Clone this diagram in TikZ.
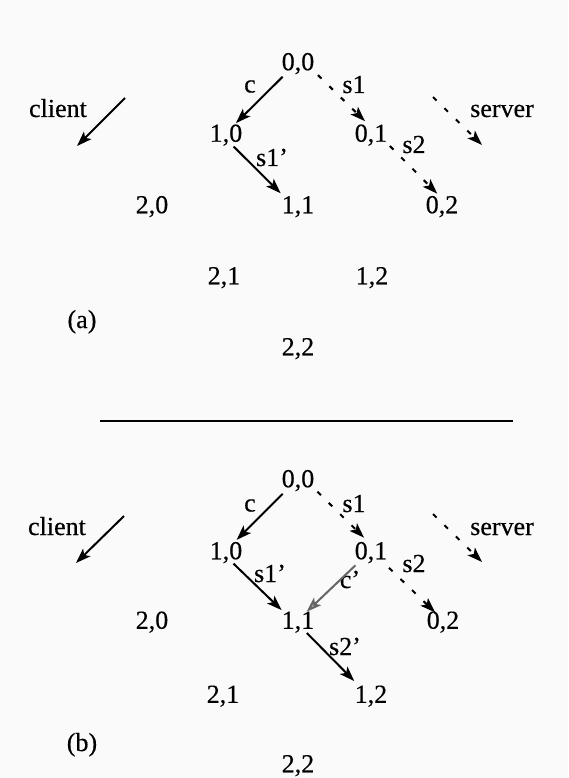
\documentclass[tikz,border=0pt]{standalone}
\usepackage{fontspec}
\setmainfont{Liberation Serif}[FakeBold=0.35]
\usetikzlibrary{arrows.meta}
\begin{document}
\begin{tikzpicture}[x=1pt,y=-1pt,
  every node/.style={font=\fontsize{26}{31}\selectfont, inner sep=0pt, text=black},
  st/.style={text height=17.5pt, text depth=0pt, anchor=center},
  lbl/.style={anchor=base},
  tip/.style={-{Stealth[length=15pt,width=10.5pt,inset=3.5pt]}},
  carrow/.style={line width=2pt, tip},
  sarrow/.style={line width=2pt, dash pattern=on 5pt off 11pt, tip},
  garrow/.style={line width=2pt, draw=black!60, -{Stealth[length=15pt,width=10.5pt,inset=3.5pt,fill=black!35]}}
]
\fill[black!2] (0,0) rectangle (568,778);
\useasboundingbox (0,0) rectangle (568,778);

% ---------- panel (a) ----------
\node[st] (a00) at (298,61.5) {0,0};
\node[st] (a10) at (226,133) {1,0};
\node[st] (a01) at (371,133) {0,1};
\node[st] (a20) at (152,204.5) {2,0};
\node[st] (a11) at (298,204.5) {1,1};
\node[st] (a02) at (442,204.5) {0,2};
\node[st] (a21) at (224,275.5) {2,1};
\node[st] (a12) at (372,275.5) {1,2};
\node[st] (a22) at (298,346.5) {2,2};

\node[lbl] (ac) at (250,92.5) {c};
\node[lbl] (as1) at (354,93) {s1};
\node[lbl] (as1p) at (272,166) {s1'};
\node[lbl] (as2) at (414,153) {s2};
\node[lbl] (aclient) at (58,117) {client};
\node[lbl] (aserver) at (502,117) {server};
\node[lbl] (alab) at (82,328) {(a)};

\coordinate (acs) at (125,98);
\coordinate (ace) at (77,146);
\coordinate (ass) at (433,97);
\coordinate (ase) at (482,145);
\draw[carrow] (acs) -- (ace);
\draw[sarrow] (ass) -- (ase);

\draw[carrow, shorten <=21.6pt, shorten >=14pt] (a00.center) -- (a10.center);
\draw[sarrow, shorten <=23.7pt, shorten >=12.6pt] ([xshift=3pt,yshift=3pt]a00.center) -- ([xshift=3pt,yshift=3pt]a01.center);
\draw[carrow, shorten <=14.9pt, shorten >=20.2pt] ([xshift=-3pt,yshift=-3pt]a10.center) -- ([xshift=-3pt,yshift=-3pt]a11.center);
\draw[sarrow, shorten <=22.6pt, shorten >=11pt] ([xshift=3pt,yshift=3pt]a01.center) -- ([xshift=3pt,yshift=3pt]a02.center);

% ---------- separator ----------
\coordinate (rl) at (100,421);
\coordinate (rr) at (513,421);
\draw[line width=2pt] (rl) -- (rr);

% ---------- panel (b) ----------
\node[st] (b00) at (298,478.5) {0,0};
\node[st] (b10) at (226,550.5) {1,0};
\node[st] (b01) at (371,550.5) {0,1};
\node[st] (b20) at (152,620) {2,0};
\node[st] (b11) at (298,620) {1,1};
\node[st] (b02) at (443,620) {0,2};
\node[st] (b21) at (223,694) {2,1};
\node[st] (b12) at (371,694) {1,2};
\node[st] (b22) at (298,763.5) {2,2};

\node[lbl] (bc) at (250,511.5) {c};
\node[lbl] (bs1) at (354,512) {s1};
\node[lbl] (bs1p) at (270,582) {s1'};
\node[lbl] (bcp) at (350,588) {c'};
\node[lbl] (bs2) at (414,572) {s2};
\node[lbl] (bs2p) at (345,655) {s2'};
\node[lbl] (bclient) at (57,535) {client};
\node[lbl] (bserver) at (502,535) {server};
\node[lbl] (blab) at (82,751) {(b)};

\coordinate (bcs) at (124,516);
\coordinate (bce) at (76,563);
\coordinate (bss) at (433,514);
\coordinate (bse) at (482,562);
\draw[carrow] (bcs) -- (bce);
\draw[sarrow] (bss) -- (bse);

\draw[carrow, shorten <=21.6pt, shorten >=15pt] (b00.center) -- (b10.center);
\draw[sarrow, shorten <=23pt, shorten >=14pt] ([xshift=3pt,yshift=3pt]b00.center) -- ([xshift=3pt,yshift=3pt]b01.center);
\draw[carrow, shorten <=14.5pt, shorten >=18.6pt] ([xshift=-3pt,yshift=-3pt]b10.center) -- ([xshift=-3pt,yshift=-3pt]b11.center);
\draw[garrow, shorten <=21.5pt, shorten >=12pt] (b01.center) -- (b11.center);
\draw[sarrow, shorten <=25pt, shorten >=11pt] (b01.center) -- (b02.center);
\draw[carrow, shorten <=15.5pt, shorten >=21pt] ([xshift=-2pt,yshift=-2pt]b11.center) -- ([xshift=-2pt,yshift=-2pt]b12.center);
\end{tikzpicture}
\end{document}
